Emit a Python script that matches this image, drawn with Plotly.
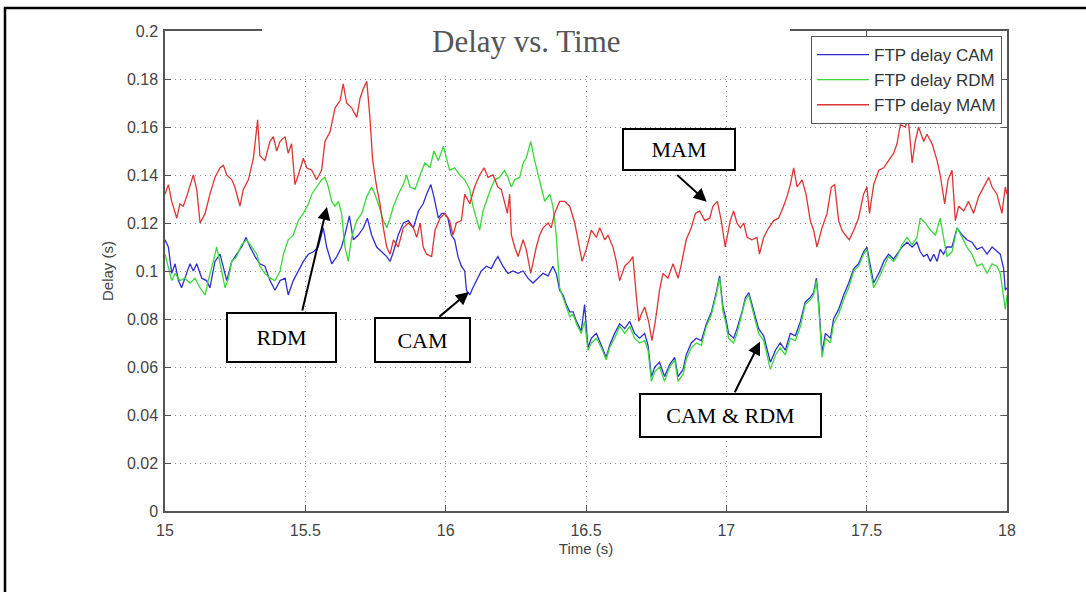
import plotly.graph_objects as go

# ---------------- data ----------------
t_cam = [15.000,15.012,15.024,15.036,15.048,15.059,15.077,15.089,15.101,15.113,
         15.131,15.148,15.160,15.178,15.196,15.208,15.220,15.238,15.255,15.273,
         15.289,15.303,15.321,15.338,15.356,15.374,15.392,15.410,15.428,15.439,
         15.457,15.475,15.493,15.511,15.529,15.546,15.564,15.576,15.594,15.612,
         15.629,15.641,15.657,15.671,15.689,15.707,15.721,15.736,15.754,15.772,
         15.790,15.802,15.814,15.831,15.849,15.867,15.885,15.903,15.920,15.932,
         15.947,15.958,15.974,15.986,
         15.997,16.008,16.020,16.032,16.044,16.056,16.068,16.074,16.086,16.097,
         16.109,16.127,16.145,16.163,16.175,16.186,16.204,16.222,16.240,16.258,
         16.276,16.293,16.311,16.329,16.347,16.365,16.382,16.394,16.406,16.418,
         16.430,16.442,16.454,16.466,16.483,16.495,16.507,16.519,16.537,16.555,
         16.572,16.584,16.602,16.620,16.638,16.656,16.673,16.691,16.709,16.721,
         16.733,16.745,16.762,16.780,16.798,16.816,16.828,16.846,16.857,16.875,
         16.893,16.911,16.929,16.947,16.964,16.976,16.988,
         16.997,17.008,17.026,17.038,17.056,17.068,17.080,17.097,17.115,17.133,
         17.145,17.157,17.175,17.192,17.210,17.228,17.246,17.264,17.281,17.299,
         17.311,17.321,17.329,17.341,17.353,17.371,17.382,17.400,17.418,17.436,
         17.454,17.471,17.489,17.501,17.510,17.525,17.543,17.561,17.578,17.596,
         17.608,17.626,17.644,17.662,17.679,17.691,17.703,17.715,17.727,17.739,
         17.751,17.762,17.774,17.786,17.804,17.822,17.840,17.857,17.875,17.893,
         17.911,17.929,17.947,17.964,17.976,17.988,17.994,18.000]
delay_cam = [0.113,0.110,0.099,0.103,0.096,0.093,0.099,0.103,0.100,0.103,
             0.097,0.096,0.093,0.104,0.107,0.102,0.096,0.104,0.107,0.110,
             0.114,0.110,0.106,0.103,0.102,0.096,0.092,0.096,0.097,0.090,
             0.096,0.100,0.104,0.107,0.108,0.110,0.118,0.110,0.103,0.106,
             0.110,0.115,0.123,0.113,0.115,0.118,0.122,0.115,0.110,0.108,
             0.106,0.104,0.108,0.115,0.120,0.121,0.118,0.125,0.128,0.132,
             0.136,0.131,0.122,0.124,
             0.124,0.122,0.115,0.113,0.106,0.102,0.100,0.092,0.090,0.093,
             0.096,0.100,0.102,0.101,0.104,0.106,0.102,0.099,0.100,0.099,
             0.100,0.097,0.095,0.097,0.099,0.098,0.102,0.099,0.092,0.090,
             0.086,0.083,0.083,0.079,0.075,0.086,0.068,0.072,0.074,0.069,
             0.064,0.069,0.074,0.078,0.076,0.079,0.074,0.072,0.074,0.069,
             0.056,0.060,0.062,0.056,0.061,0.064,0.056,0.059,0.065,0.070,
             0.072,0.071,0.078,0.083,0.091,0.098,0.085,
             0.081,0.074,0.072,0.076,0.083,0.089,0.091,0.084,0.076,0.073,
             0.068,0.062,0.067,0.070,0.067,0.074,0.073,0.079,0.087,0.089,
             0.091,0.097,0.087,0.066,0.074,0.072,0.080,0.084,0.090,0.095,
             0.101,0.103,0.108,0.110,0.104,0.095,0.099,0.104,0.107,0.105,
             0.107,0.110,0.112,0.110,0.112,0.108,0.106,0.107,0.104,0.107,
             0.104,0.109,0.107,0.110,0.110,0.118,0.115,0.113,0.112,0.109,
             0.110,0.107,0.110,0.108,0.107,0.101,0.092,0.093]

t_rdm = [15.000,15.012,15.024,15.036,15.053,15.071,15.089,15.107,15.125,15.143,
         15.154,15.172,15.184,15.202,15.214,15.226,15.238,15.255,15.273,15.291,
         15.309,15.327,15.338,15.356,15.374,15.392,15.410,15.422,15.439,15.457,
         15.475,15.493,15.511,15.523,15.540,15.558,15.570,15.582,15.594,15.606,
         15.618,15.629,15.641,15.653,15.665,15.683,15.701,15.719,15.736,15.748,
         15.760,15.778,15.790,15.802,15.814,15.831,15.849,15.861,15.873,15.891,
         15.909,15.926,15.944,15.958,15.974,15.992,
         16.005,16.014,16.032,16.050,16.068,16.086,16.097,16.109,16.121,16.133,
         16.145,16.163,16.175,16.192,16.210,16.222,16.234,16.246,16.264,16.276,
         16.287,16.303,16.317,16.329,16.341,16.353,16.371,16.382,16.394,16.406,
         16.418,16.430,16.442,16.454,16.466,16.483,16.495,16.507,16.519,16.537,
         16.555,16.572,16.584,16.602,16.620,16.638,16.656,16.673,16.691,16.709,
         16.721,16.733,16.745,16.762,16.780,16.798,16.816,16.828,16.846,16.857,
         16.875,16.893,16.911,16.929,16.947,16.964,16.976,16.988,
         16.997,17.008,17.026,17.038,17.056,17.068,17.080,17.097,17.115,17.133,
         17.145,17.157,17.175,17.192,17.210,17.228,17.246,17.264,17.281,17.299,
         17.311,17.321,17.329,17.341,17.353,17.371,17.382,17.400,17.418,17.436,
         17.454,17.471,17.489,17.501,17.510,17.525,17.543,17.561,17.578,17.596,
         17.608,17.626,17.644,17.662,17.679,17.691,17.709,17.727,17.745,17.762,
         17.774,17.786,17.804,17.822,17.840,17.857,17.875,17.893,17.911,17.929,
         17.947,17.964,17.976,17.988,17.994,18.000]
delay_rdm = [0.107,0.102,0.096,0.099,0.096,0.097,0.095,0.097,0.093,0.090,
             0.096,0.104,0.110,0.100,0.093,0.097,0.104,0.106,0.111,0.113,
             0.110,0.107,0.102,0.099,0.097,0.096,0.100,0.107,0.113,0.115,
             0.121,0.124,0.128,0.132,0.135,0.138,0.139,0.135,0.129,0.127,
             0.129,0.124,0.110,0.104,0.114,0.121,0.124,0.131,0.135,0.132,
             0.128,0.121,0.118,0.122,0.127,0.132,0.136,0.140,0.135,0.134,
             0.140,0.145,0.143,0.150,0.146,0.152,
             0.146,0.142,0.143,0.140,0.138,0.134,0.127,0.122,0.117,0.125,
             0.129,0.135,0.138,0.139,0.142,0.139,0.135,0.138,0.139,0.145,
             0.147,0.154,0.146,0.140,0.134,0.129,0.132,0.127,0.115,0.093,
             0.089,0.085,0.081,0.082,0.078,0.074,0.079,0.067,0.070,0.072,
             0.068,0.063,0.068,0.072,0.077,0.074,0.077,0.072,0.070,0.071,
             0.067,0.054,0.058,0.060,0.054,0.060,0.063,0.054,0.057,0.063,
             0.068,0.070,0.069,0.077,0.082,0.090,0.097,0.083,
             0.079,0.072,0.070,0.074,0.082,0.088,0.090,0.082,0.074,0.071,
             0.065,0.059,0.065,0.068,0.065,0.072,0.071,0.077,0.086,0.088,
             0.090,0.096,0.085,0.064,0.072,0.070,0.078,0.082,0.088,0.093,
             0.100,0.102,0.107,0.109,0.102,0.093,0.097,0.102,0.106,0.104,
             0.106,0.111,0.114,0.111,0.114,0.122,0.120,0.117,0.115,0.122,
             0.114,0.106,0.108,0.118,0.114,0.110,0.107,0.102,0.103,0.099,
             0.103,0.102,0.099,0.090,0.084,0.090]

t_mam = [15.000,15.012,15.024,15.042,15.053,15.065,15.077,15.101,15.113,15.125,
         15.143,15.160,15.178,15.196,15.208,15.220,15.238,15.249,15.267,15.279,
         15.297,15.315,15.330,15.338,15.356,15.374,15.386,15.398,15.410,15.428,
         15.439,15.451,15.463,15.475,15.493,15.505,15.523,15.540,15.558,15.570,
         15.588,15.606,15.624,15.635,15.647,15.665,15.683,15.695,15.707,15.719,
         15.730,15.740,15.754,15.766,15.778,15.790,15.802,15.814,15.831,15.849,
         15.867,15.885,15.897,15.909,15.920,15.932,15.950,15.962,15.980,
         15.997,16.014,16.026,16.038,16.056,16.068,16.086,16.103,16.121,16.137,
         16.151,16.169,16.186,16.198,16.210,16.220,16.228,16.234,16.246,16.258,
         16.276,16.287,16.303,16.311,16.323,16.335,16.347,16.365,16.376,16.388,
         16.406,16.424,16.442,16.460,16.471,16.486,16.501,16.519,16.537,16.549,
         16.567,16.578,16.596,16.608,16.620,16.638,16.656,16.667,16.679,16.688,
         16.697,16.709,16.723,16.735,16.747,16.762,16.774,16.792,16.810,16.828,
         16.840,16.857,16.875,16.890,16.905,16.923,16.941,16.952,16.968,16.982,
         16.996,
         17.014,17.026,17.038,17.050,17.062,17.074,17.091,17.109,17.118,17.133,
         17.151,17.169,17.186,17.204,17.216,17.228,17.240,17.252,17.270,17.284,
         17.299,17.311,17.323,17.341,17.359,17.374,17.386,17.400,17.412,17.424,
         17.438,17.454,17.471,17.489,17.501,17.510,17.525,17.543,17.561,17.578,
         17.596,17.608,17.620,17.638,17.647,17.662,17.673,17.685,17.703,17.715,
         17.733,17.751,17.762,17.778,17.790,17.804,17.816,17.828,17.846,17.863,
         17.881,17.899,17.917,17.935,17.947,17.964,17.982,17.994,18.000]
delay_mam = [0.132,0.136,0.129,0.122,0.128,0.127,0.131,0.140,0.134,0.120,
             0.124,0.132,0.139,0.143,0.144,0.140,0.138,0.135,0.127,0.134,
             0.138,0.147,0.163,0.148,0.146,0.154,0.156,0.150,0.154,0.156,
             0.149,0.153,0.136,0.140,0.147,0.143,0.142,0.138,0.142,0.154,
             0.158,0.168,0.171,0.178,0.170,0.168,0.164,0.172,0.176,0.179,
             0.164,0.146,0.135,0.128,0.118,0.110,0.107,0.113,0.110,0.118,
             0.120,0.118,0.114,0.120,0.110,0.107,0.106,0.117,0.122,
             0.124,0.121,0.115,0.120,0.121,0.132,0.128,0.135,0.140,0.143,
             0.139,0.140,0.135,0.134,0.129,0.124,0.132,0.115,0.110,0.106,
             0.113,0.109,0.099,0.104,0.110,0.115,0.118,0.120,0.118,0.124,
             0.129,0.129,0.127,0.120,0.113,0.104,0.109,0.117,0.114,0.118,
             0.113,0.115,0.110,0.104,0.096,0.102,0.104,0.106,0.090,0.079,
             0.082,0.085,0.079,0.071,0.079,0.092,0.099,0.097,0.103,0.097,
             0.103,0.113,0.118,0.124,0.125,0.121,0.122,0.127,0.129,0.121,
             0.110,
             0.121,0.125,0.120,0.118,0.120,0.114,0.113,0.114,0.107,0.114,
             0.118,0.121,0.122,0.127,0.131,0.136,0.143,0.135,0.138,0.132,
             0.121,0.117,0.110,0.118,0.124,0.135,0.136,0.121,0.117,0.115,
             0.113,0.117,0.122,0.132,0.135,0.124,0.136,0.142,0.143,0.146,
             0.149,0.153,0.161,0.160,0.165,0.145,0.154,0.160,0.154,0.157,
             0.153,0.146,0.140,0.128,0.138,0.142,0.121,0.127,0.125,0.129,
             0.124,0.131,0.135,0.139,0.135,0.132,0.124,0.135,0.132]

series_names = ["FTP delay CAM", "FTP delay RDM", "FTP delay MAM"]
x_ticks = [15, 15.5, 16, 16.5, 17, 17.5, 18]
x_tick_labels = ["15", "15.5", "16", "16.5", "17", "17.5", "18"]
y_ticks = [0, 0.02, 0.04, 0.06, 0.08, 0.10, 0.12, 0.14, 0.16, 0.18, 0.20]
y_tick_labels = ["0", "0.02", "0.04", "0.06", "0.08", "0.1", "0.12", "0.14", "0.16", "0.18", "0.2"]

assert len(t_cam) == len(delay_cam), (len(t_cam), len(delay_cam))
assert len(t_rdm) == len(delay_rdm), (len(t_rdm), len(delay_rdm))
assert len(t_mam) == len(delay_mam), (len(t_mam), len(delay_mam))

# ---------------- figure ----------------
W, H = 1086, 592
L, R, T, B = 165, 79, 31, 81
PW, PH = W - L - R, H - T - B


def px(x):
    return (x - L) / PW


def py(y):
    return (H - B - y) / PH


colors = ["#2e2ed2", "#3ad83a", "#de3434"]
fig = go.Figure()
for name, t, d, c in zip(series_names, [t_cam, t_rdm, t_mam],
                         [delay_cam, delay_rdm, delay_mam], colors):
    fig.add_trace(go.Scatter(x=t, y=d, mode="lines", name=name,
                             line=dict(color=c, width=1.3)))

axis_common = dict(
    showgrid=True, gridcolor="#8a8a8a", griddash="1px,4px", gridwidth=1.2,
    ticks="inside", ticklen=6, tickcolor="#555", tickwidth=1,
    showline=True, linecolor="#555", linewidth=1.5, mirror="ticks",
    zeroline=False,
    tickfont=dict(family="Liberation Sans, Arial", size=16, color="#444"),
)
fig.update_xaxes(range=[15, 18], tickvals=x_ticks, ticktext=x_tick_labels,
                 ticklabelstandoff=4,
                 title=dict(text="Time (s)", standoff=6,
                            font=dict(family="Liberation Sans, Arial", size=15, color="#444")),
                 **axis_common)
fig.update_yaxes(range=[0, 0.2], tickvals=y_ticks, ticktext=y_tick_labels,
                 ticklabelstandoff=2,
                 title=dict(text="Delay (s)", standoff=10,
                            font=dict(family="Liberation Sans, Arial", size=15, color="#444")),
                 **axis_common)

shapes = [
    # white patch hiding the top border behind the title
    dict(type="rect", xref="paper", yref="paper", x0=px(262), x1=px(790),
         y0=py(72), y1=py(14), fillcolor="white", line=dict(width=0), layer="above"),
    # outer black frame of the figure
    dict(type="rect", xref="paper", yref="paper", x0=px(5), x1=px(1100),
         y0=py(610), y1=py(8), line=dict(color="black", width=2.5), layer="above"),
]

annotations = [
    dict(text="Delay vs. Time", xref="paper", yref="paper", x=px(526), y=py(41),
         xanchor="center", yanchor="middle", showarrow=False,
         font=dict(family="Liberation Serif, Times New Roman", size=31, color="#555")),
]

boxes = [  # label, centre px, centre py, width, height
    ("RDM", 281.5, 337.5, 109, 49),
    ("CAM", 422.5, 340, 95, 44),
    ("MAM", 678.5, 149.5, 112, 41),
    ("CAM &amp; RDM", 730.5, 415.5, 181, 43),
]
for label, cx, cy, bw, bh in boxes:
    annotations.append(dict(
        text=label, xref="paper", yref="paper", x=px(cx), y=py(cy),
        xanchor="center", yanchor="middle", showarrow=False,
        width=bw - 2, height=bh - 2, borderpad=0, borderwidth=2,
        bordercolor="black", bgcolor="white", align="center", valign="middle",
        font=dict(family="Liberation Serif, Times New Roman", size=22, color="black")))

arrows = [  # tip (data), tail offset in px
    (15.577, 0.1267, -25, 105),
    (16.083, 0.0913, -31, 26),
    (16.930, 0.1289, -31, -28),
    (17.120, 0.0705, -26, 52),
]
for xa, ya, ax, ay in arrows:
    annotations.append(dict(
        text="", x=xa, y=ya, xref="x", yref="y", ax=ax, ay=ay,
        showarrow=True, arrowhead=2, arrowsize=1.3, arrowwidth=2,
        arrowcolor="black", standoff=0, startstandoff=0))

fig.update_layout(
    width=W, height=H,
    margin=dict(l=L, r=R, t=T, b=B, pad=0),
    paper_bgcolor="white", plot_bgcolor="white",
    showlegend=True,
    legend=dict(x=px(811), y=py(36), xanchor="left", yanchor="top",
                bgcolor="white", bordercolor="#555", borderwidth=1,
                font=dict(family="Liberation Sans, Arial", size=17, color="#333"),
                itemwidth=52, tracegroupgap=0),
    shapes=shapes, annotations=annotations,
)

fig.write_html("out.html")
